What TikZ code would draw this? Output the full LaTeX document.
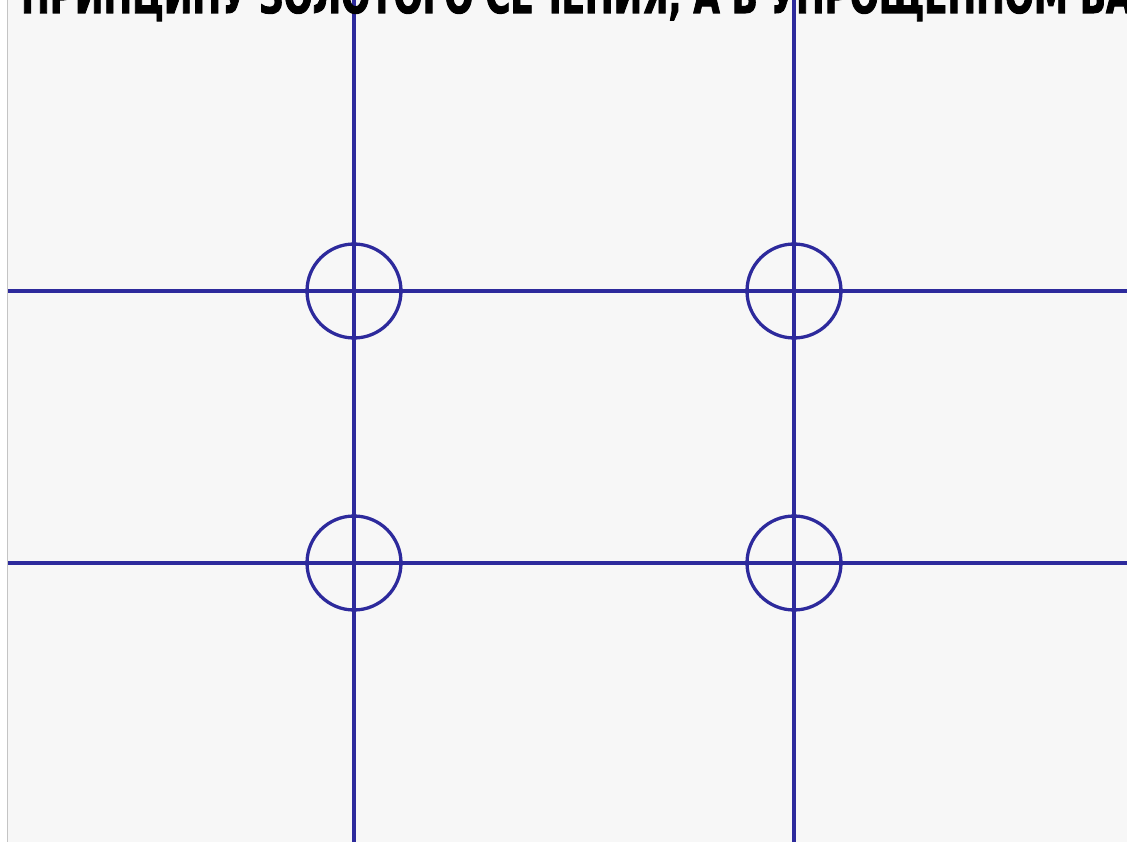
\documentclass[tikz,border=0pt]{standalone}
\usepackage{fontspec}
\newfontfamily\headfont[FakeBold=2]{DejaVu Sans Condensed Bold}
\usetikzlibrary{positioning}
\definecolor{cnavy}{HTML}{2D2A9C}
\definecolor{cpaper}{HTML}{F7F7F7}
\definecolor{cedge}{HTML}{C4C4C4}
\tikzset{
  gridline/.style={draw=cnavy, line width=3.3pt},
  target/.style={circle, draw=cnavy, line width=3.3pt, minimum size=94pt, inner sep=0pt},
  headline/.style={font=\headfont, text=black, inner sep=0pt},
}
\begin{document}
\begin{tikzpicture}[x=1pt, y=-1pt]
  \useasboundingbox (0,0) rectangle (1127,842);
  % sheet with its left edge
  \fill[cpaper] (0,0) rectangle (1127,842);
  \fill[white] (0,0) rectangle (7,842);
  \draw[cedge, line width=1pt] (7.5,0) -- (7.5,842);
  % two verticals, two horizontals
  \foreach \x [count=\i] in {354,794} {
    \coordinate (v\i top) at (\x,0);
    \coordinate (v\i bot) at (\x,842);
    \draw[gridline] (v\i top) -- (v\i bot);
  }
  \foreach \y [count=\j] in {291,563} {
    \coordinate (h\j left) at (8,\y);
    \coordinate (h\j right) at (1127,\y);
    \draw[gridline] (h\j left) -- (h\j right);
  }
  % a ring on every crossing
  \foreach \i in {1,2} {
    \foreach \j in {1,2} {
      \node[target] (ring\i\j) at (v\i top |- h\j left) {};
    }
  }
  % heading, cut by the top edge
  \begin{scope}
    \clip (0,0) rectangle (1127,842);
    \node[headline, anchor=base west] (head) at (21,13)
      {\resizebox{1111pt}{38pt}{ПРИНЦИПУ ЗОЛОТОГО СЕЧЕНИЯ, А В УПРОЩЕННОМ ВА}};
  \end{scope}
\end{tikzpicture}
\end{document}
